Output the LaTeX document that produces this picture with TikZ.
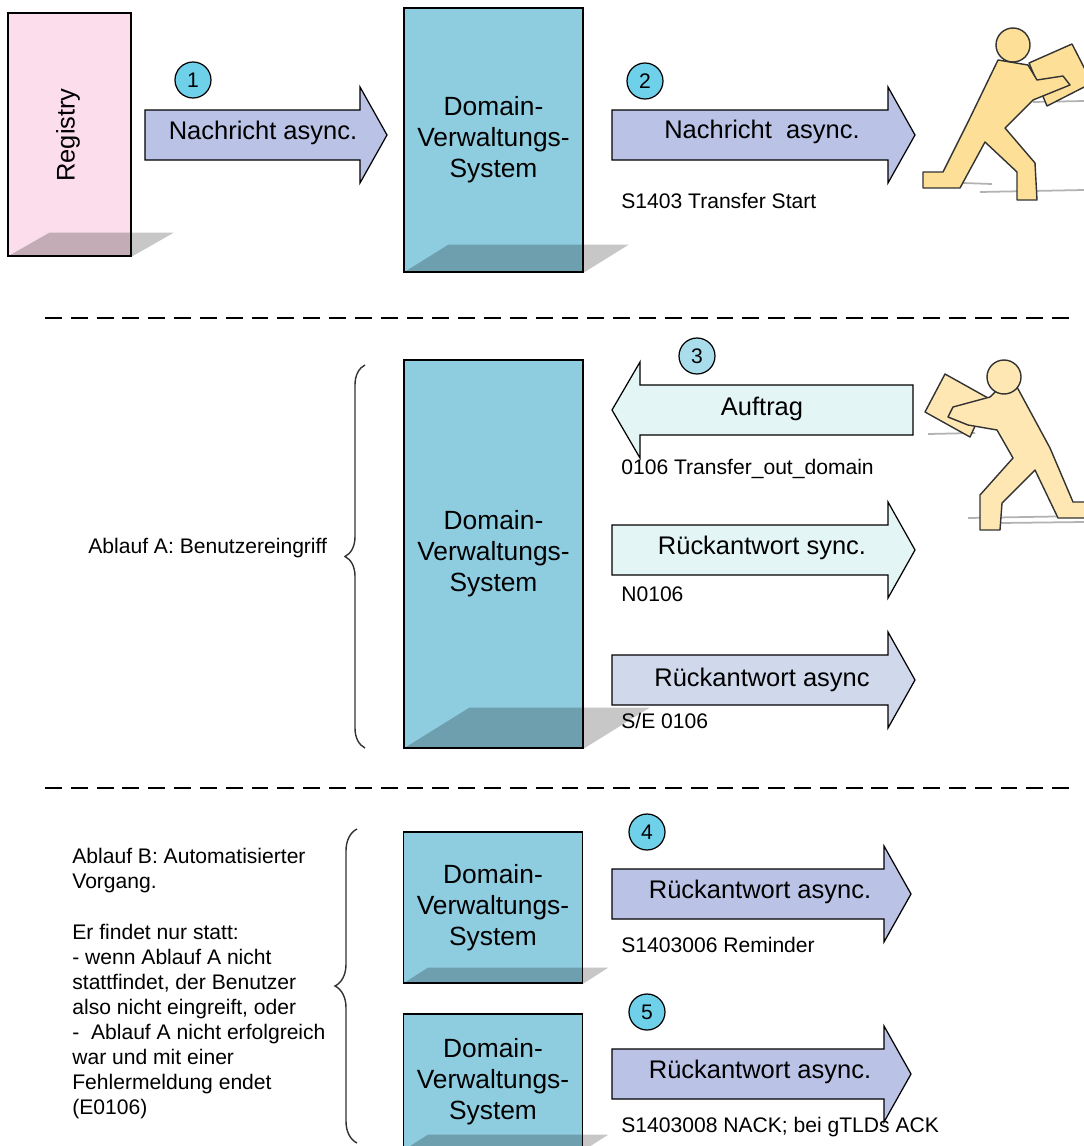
\documentclass[tikz,border=0pt]{standalone}
\usepackage{fontspec}
\setmainfont{Liberation Sans}
\usetikzlibrary{calc,decorations.pathreplacing}
\definecolor{regpink}{HTML}{FCDDEB}
\definecolor{dvsteal}{HTML}{8ECDE0}
\definecolor{msgblue}{HTML}{BAC3E6}
\definecolor{msgpale}{HTML}{D0D8EC}
\definecolor{msgmint}{HTML}{E3F5F5}
\definecolor{dotcyan}{HTML}{6FD0EA}
\definecolor{dotpale}{HTML}{A9DDEC}
\definecolor{mango}{HTML}{FDDF98}
\definecolor{mangopale}{HTML}{FEE7B2}
\definecolor{inkgrey}{HTML}{333333}
\def\rarrow[#1](#2:#3:#4){\draw[#1] (#2,#3-25) -- (#4,#3-25) -- (#4,#3-48) -- (#4+27,#3) -- (#4,#3+48) -- (#4,#3+25) -- (#2,#3+25) -- cycle;}
\def\larrow[#1](#2:#3:#4){\draw[#1] (#2+28,#3-25) -- (#4,#3-25) -- (#4,#3+25) -- (#2+28,#3+25) -- (#2+28,#3+48) -- (#2,#3) -- (#2+28,#3-48) -- cycle;}
\def\boxshadow(#1)(#2,#3){\fill[black, fill opacity=0.22] (#1.south west) -- (#1.south east) -- ($(#1.south east)+(#2,#3)$) -- ($(#1.south west)+(#2,#3)$) -- cycle;}
\tikzset{
	sysbox/.style={draw=black, line width=0.8pt, fill=dvsteal, align=center, inner sep=0pt, minimum width=3.58cm, font=\fontsize{15}{17.6}\selectfont},
	msgshape/.style={draw=black, line width=0.7pt},
	msglabel/.style={inner sep=0pt, font=\fontsize{14.5}{16}\selectfont},
	codelabel/.style={anchor=west, inner sep=0pt, font=\fontsize{12}{13}\selectfont},
	numdot/.style={circle, draw=black, line width=0.7pt, fill=dotcyan, minimum size=0.72cm, inner sep=0pt, font=\fontsize{12}{12}\selectfont},
	person/.style={draw=inkgrey, line width=0.8pt, line join=round},
	bracecurl/.style={draw=inkgrey, line width=0.8pt, decorate},
	sectionline/.style={line width=0.75pt, dash pattern=on 9.6pt off 5.1pt}
}

\begin{document}
\begin{tikzpicture}[x=0.02cm, y=-0.02cm]
		%%%%% START %%%%%
		\useasboundingbox (0,0) rectangle (1084,1146);
		\clip (0,0) rectangle (1084,1146);
		
		\draw[sectionline] (45,318) -- (1070,318);
		\draw[sectionline] (45,788) -- (1070,788);
		
		% registry and first system
		\node[draw=black, line width=0.8pt, fill=regpink, minimum width=2.46cm, minimum height=4.86cm, inner sep=0pt] (reg) at (69.5,134.5) {};
		\node[rotate=90, font=\fontsize{14.5}{16}\selectfont] (regtext) at (68,135) {Registry};
		\boxshadow(reg)(42,-24)
		
		\node[sysbox, minimum height=5.28cm] (dvsA) at (493.5,140) {Domain-\\Verwaltungs-\\System};
		\boxshadow(dvsA)(45,-28)
		
		\rarrow[msgshape, fill=msgblue](145:135:360)
		\node[msglabel] (msgA) at (263,133) {Nachricht async.};
		\node[numdot] (dotA) at (193,80) {1};
		
		\rarrow[msgshape, fill=msgblue](612:135:888)
		\node[msglabel] (msgB) at (762,132) {Nachricht~ async.};
		\node[numdot] (dotB) at (645,81) {2};
		\node[codelabel] (codeB) at (621,201) {S1403 Transfer Start};
		
		% Ablauf A
		\node[sysbox, minimum height=7.76cm] (dvsB) at (493.5,554) {Domain-\\Verwaltungs-\\System};
		\boxshadow(dvsB)(66,-41)
		
		\larrow[msgshape, fill=msgmint](612:410:913)
		\node[msglabel] (order) at (762,409) {Auftrag};
		\node[numdot, fill=dotpale] (dotC) at (697,356) {3};
		\node[codelabel] (codeC) at (621,469) {0106 Transfer\_out\_domain};
		
		\rarrow[msgshape, fill=msgmint](612:550:888)
		\node[msglabel] (syncans) at (762,548) {Rückantwort sync.};
		\node[codelabel] (codeD) at (621,594) {N0106};
		
		\rarrow[msgshape, fill=msgpale](612:680:888)
		\node[msglabel] (asyncans) at (762,680) {Rückantwort async};
		\node[codelabel] (codeE) at (621,721) {S/E 0106};
		
		\draw[bracecurl, decoration={brace, amplitude=0.4cm}] (365,748) -- (365,365);
		\node[anchor=west, inner sep=0pt, font=\fontsize{12}{14.3}\selectfont] (ablaufA) at (88,548) {Ablauf A: Benutzereingriff};
		
		% Ablauf B
		\node[sysbox, minimum height=3.02cm] (dvsC) at (493,907.5) {Domain-\\Verwaltungs-\\System};
		\boxshadow(dvsC)(25,-16)
		\node[sysbox, minimum height=2.72cm] (dvsD) at (493,1082) {Domain-\\Verwaltungs-\\System};
		\boxshadow(dvsD)(25,-16)
		
		\rarrow[msgshape, fill=msgblue](612:894:884)
		\node[msglabel] (remind) at (760,892) {Rückantwort async.};
		\node[numdot] (dotD) at (647,832) {4};
		\node[codelabel] (codeF) at (621,945) {S1403006 Reminder};
		
		\rarrow[msgshape, fill=msgblue](612:1074:884)
		\node[msglabel] (nack) at (760,1072) {Rückantwort async.};
		\node[numdot] (dotE) at (647,1012) {5};
		\node[codelabel] (codeG) at (621,1127) {S1403008 NACK; bei gTLDs ACK};
		
		\draw[bracecurl, decoration={brace, amplitude=0.44cm}] (357,1143) -- (357,829);
		\node[anchor=north west, align=left, inner sep=0pt, font=\fontsize{12}{14.3}\selectfont] (ablaufB) at (72,848) {Ablauf B: Automatisierter\\Vorgang.\\[14.3pt]Er findet nur statt:\\- wenn Ablauf A nicht\\stattfindet, der Benutzer\\also nicht eingreift, oder\\-~ Ablauf A nicht erfolgreich\\war und mit einer\\Fehlermeldung endet\\(E0106)};
		
		% courier, top
		\draw[gray!60, line width=1pt] (963,183) -- (992,184);
		\draw[gray!60, line width=1pt] (980,192) -- (1084,190);
		\draw[gray!60, line width=1pt] (1033,102) -- (1084,101);
		\filldraw[person, fill=mango] (1029,63) -- (1072,44) -- (1092,83) -- (1047,106) -- cycle;
		\filldraw[person, fill=mango] (998,60) -- (1028,65) -- (1037,80) -- (1063,76) -- (1070,85) -- (1033,100) -- (1005,128) -- (1035,163) -- (1037,200) -- (1017,200) -- (1017,172) -- (985,142) -- (960,188) -- (923,188) -- (923,172) -- (943,172) -- (968,122) -- cycle;
		\filldraw[person, fill=mango] (1013,45) circle (17);
		
		% courier, middle
		\draw[gray!60, line width=1pt] (928,434) -- (975,433);
		\draw[gray!60, line width=1pt] (968,518) -- (1084,516);
		\draw[gray!60, line width=1pt] (1000,523) -- (1084,522);
		\filldraw[person, fill=mangopale] (945,374) -- (988,398) -- (970,437) -- (925,412) -- cycle;
		\filldraw[person, fill=mangopale] (997,390) -- (1017,387) -- (1050,448) -- (1073,502) -- (1090,502) -- (1090,518) -- (1058,518) -- (1035,470) -- (1002,503) -- (1000,530) -- (980,530) -- (980,495) -- (1013,458) -- (997,430) -- (968,425) -- (948,417) -- (953,407) -- (990,397) -- cycle;
		\filldraw[person, fill=mangopale] (1004,377) circle (17);
		
		%%%%% END %%%%%
	\end{tikzpicture}
\end{document}
